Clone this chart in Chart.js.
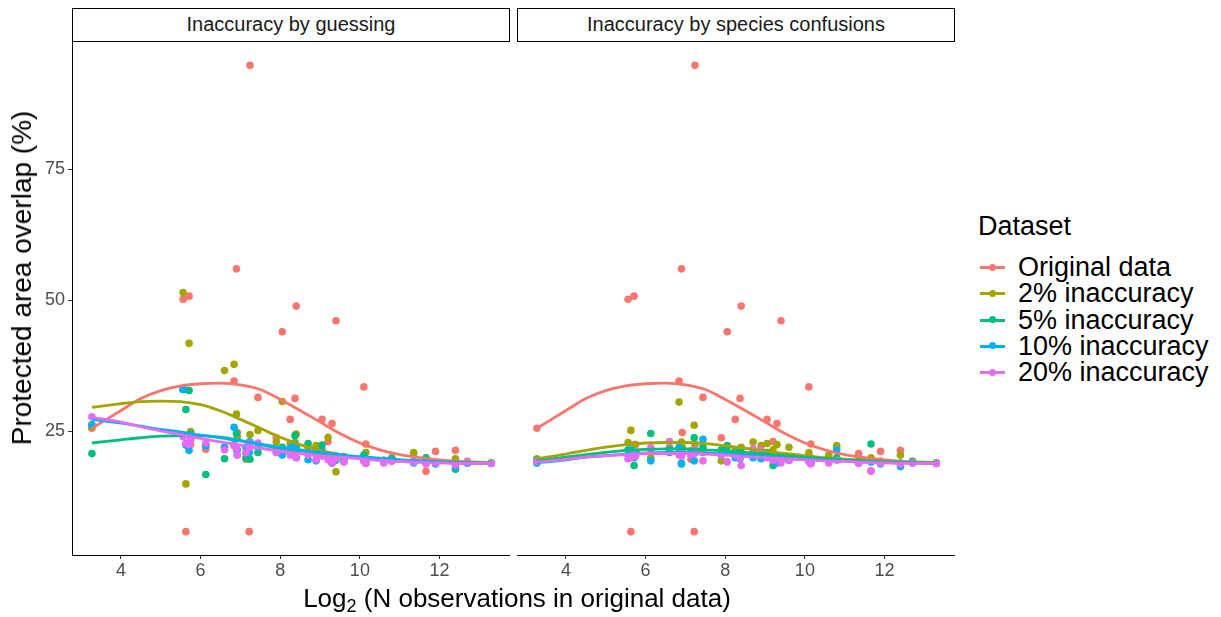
<!DOCTYPE html>
<html lang="en">
<head>
    <meta charset="UTF-8">
    <title>Protected area overlap</title>
    <script src="https://cdn.jsdelivr.net/npm/chart.js"></script>
    <style>
        body {
            margin: 0;
            width: 1221px;
            height: 617px;
            background: #fff;
            position: relative;
            overflow: hidden;
            font-family: Arial, "Liberation Sans", sans-serif;
            color: #000;
        }
        canvas { position: absolute; }
        .strip {
            position: absolute;
            top: 8px;
            height: 34px;
            width: 438px;
            box-sizing: border-box;
            border: 1.6px solid #000;
            text-align: center;
            font-size: 20px;
            line-height: 31px;
            color: #1a1a1a;
        }
        .ytitle {
            position: absolute;
            left: 22px;
            top: 278px;
            transform: translate(-50%, -50%) rotate(-90deg);
            white-space: nowrap;
            font-size: 28px;
        }
        .xtitle {
            position: absolute;
            left: 517px;
            top: 583px;
            transform: translateX(-50%);
            white-space: nowrap;
            font-size: 26px;
        }
        .xtitle sub { font-size: 18px; vertical-align: -5px; }
        .legend { position: absolute; left: 978px; top: 209px; font-size: 27px; }
        .legend .title { margin-bottom: 11px; line-height: 34px; }
        .legend .item { position: relative; height: 26.3px; line-height: 26px; padding-left: 40px; white-space: nowrap; }
        .legend .key { position: absolute; left: 2px; top: 12px; width: 25px; height: 3px; }
        .legend .dot { position: absolute; left: 9px; top: -2.5px; width: 7px; height: 7px; border-radius: 50%; }
    </style>
</head>
<body>
    <div class="strip" style="left:72px">Inaccuracy by guessing</div>
    <div class="strip" style="left:517px">Inaccuracy by species confusions</div>
    <canvas id="left-panel" width="510" height="543" style="left:0;top:42px"></canvas>
    <canvas id="right-panel" width="438" height="543" style="left:517px;top:42px"></canvas>
    <div class="ytitle">Protected area overlap (%)</div>
    <div class="xtitle">Log<sub>2</sub> (N observations in original data)</div>
    <div class="legend" id="legend"><div class="title">Dataset</div></div>

    <script>
        // series names and colours (ggplot default hue palette)
        const seriesNames = ['Original data', '2% inaccuracy', '5% inaccuracy', '10% inaccuracy', '20% inaccuracy'];
        const seriesColors = ['#F8766D', '#A3A500', '#00BF7D', '#00B0F6', '#E76BF3'];

        // log2 of N observations per species
        const speciesX = [3.27, 5.56, 5.63, 5.71, 5.75, 6.13, 6.6, 6.84, 6.9, 6.92, 7.14, 7.22, 7.24, 7.44, 7.9, 8.05, 8.25, 8.37, 8.4, 8.7,
                          8.9, 9.05, 9.2, 9.3, 9.4, 9.6, 10.1, 10.15, 10.6, 10.8, 11.35, 11.66, 11.9, 12.4, 12.7, 13.3];

        // overlap (%) per species, original data (same in both panels)
        const original = [25.6, 50.2, 5.9, 50.8, 22.5, 21.6, 22.0, 34.6, 56.0, 24.8, 19.7, 5.9, 94.8, 31.5, 23.8, 44.0, 27.3, 31.3, 48.9, 21.0,
                          20.5, 27.3, 23.1, 26.5, 46.1, 20.0, 33.5, 22.6, 19.5, 19.8, 20.8, 17.4, 21.2, 21.4, 19.3, 19.0];

        // inaccuracy by guessing
        const guess2 = [25.9, 51.5, 15.0, 41.8, 25.0, 22.5, 36.6, 37.8, 28.3, 24.0, 21.0, 22.5, 24.4, 25.2, 23.0, 30.7, 22.7, 22.9, 24.5, 22.0,
                        22.3, 21.4, 23.9, 19.0, 17.3, 20.2, 19.7, 21.0, 19.5, 20.0, 21.0, 19.2, 19.0, 19.8, 19.2, 19.0];
        const guess5 = [20.8, 33.0, 29.2, 32.8, 24.5, 16.8, 19.8, 22.5, 24.6, 21.5, 20.0, 23.0, 19.7, 21.0, 21.5, 22.0, 21.0, 24.2, 22.0, 22.7,
                        21.0, 22.4, 20.0, 19.0, 19.5, 19.8, 20.5, 19.5, 19.2, 19.8, 19.3, 20.0, 19.0, 17.8, 19.0, 19.0];
        const guess10 = [26.3, 33.0, 22.4, 21.4, 23.5, 22.3, 22.0, 25.8, 21.5, 20.5, 22.0, 21.0, 23.0, 22.0, 21.0, 20.5, 21.8, 22.5, 20.0, 19.6,
                         19.4, 21.2, 20.0, 19.2, 20.3, 19.3, 19.5, 19.0, 19.3, 19.5, 19.0, 19.1, 18.8, 18.3, 19.0, 18.9];
        const guess20 = [27.8, 24.0, 22.7, 22.5, 23.5, 22.8, 21.5, 22.3, 21.8, 20.5, 21.0, 22.8, 22.0, 22.8, 21.0, 21.5, 20.5, 21.2, 20.0, 20.5,
                         19.6, 20.3, 19.6, 19.0, 19.8, 19.2, 19.3, 18.9, 19.0, 19.3, 19.2, 18.8, 19.0, 18.6, 19.2, 18.9];

        // inaccuracy by species confusions
        const conf2 = [19.8, 22.9, 25.2, 22.5, 21.0, 20.0, 21.5, 30.6, 23.0, 22.0, 21.3, 26.2, 22.5, 21.0, 19.4, 22.0, 21.5, 20.5, 22.0, 23.0,
                       22.3, 22.7, 21.5, 22.5, 20.0, 22.0, 21.0, 20.0, 20.5, 22.3, 19.5, 20.0, 19.3, 20.5, 19.3, 19.0];
        const conf5 = [19.5, 21.5, 21.0, 18.5, 21.0, 24.6, 21.5, 21.0, 19.0, 21.5, 21.0, 23.8, 21.5, 22.0, 21.5, 22.3, 21.0, 20.5, 21.0, 21.0,
                       20.5, 21.0, 18.5, 19.5, 20.0, 19.5, 19.5, 19.0, 19.5, 20.0, 19.0, 22.6, 19.2, 19.0, 19.2, 19.0];
        const conf10 = [19.0, 20.5, 21.4, 20.0, 21.0, 19.4, 21.0, 22.0, 18.8, 21.0, 20.5, 19.4, 21.0, 23.5, 20.5, 21.0, 20.0, 19.8, 20.5, 20.0,
                        19.8, 20.5, 19.5, 19.0, 19.5, 19.5, 19.3, 19.0, 19.2, 21.5, 19.0, 19.2, 18.8, 18.3, 19.0, 18.9];
        const conf20 = [19.3, 19.8, 20.0, 20.5, 20.3, 21.9, 23.1, 20.5, 20.3, 21.0, 20.5, 20.8, 21.5, 19.4, 20.5, 19.2, 20.5, 20.0, 18.5, 21.7,
                        21.5, 20.0, 19.5, 20.0, 19.0, 19.5, 19.3, 18.8, 19.0, 19.5, 19.0, 17.5, 19.0, 18.8, 19.0, 18.9];

        // smoothed curves (loess), read at these x positions
        const smoothX = [3.27, 4, 4.5, 5, 5.5, 6, 6.5, 7, 7.5, 8, 8.5, 9, 9.5, 10, 10.5, 11, 11.5, 12, 12.5, 13.3];
        const smoothOriginal = [25.6, 29.0, 31.3, 32.8, 33.7, 34.1, 34.2, 33.9, 33.0, 31.1, 29.0, 26.8, 24.6, 22.8, 21.5, 20.6, 20.0, 19.6, 19.3, 19.1];
        const smoothGuess2 = [29.6, 30.3, 30.7, 30.8, 30.7, 30.1, 28.9, 27.3, 25.6, 23.9, 22.5, 21.4, 20.6, 20.0, 19.6, 19.3, 19.2, 19.1, 19.0, 18.9];
        const smoothGuess5 = [22.8, 23.4, 23.8, 24.1, 24.2, 24.2, 23.9, 23.3, 22.5, 21.8, 21.3, 20.8, 20.4, 20.1, 19.8, 19.6, 19.4, 19.2, 19.1, 19.0];
        const smoothGuess10 = [27.3, 26.6, 26.0, 25.4, 24.9, 24.3, 23.8, 23.2, 22.6, 22.0, 21.5, 21.0, 20.6, 20.2, 19.9, 19.6, 19.4, 19.2, 19.0, 18.9];
        const smoothGuess20 = [27.7, 26.8, 25.9, 25.1, 24.4, 23.7, 23.0, 22.4, 21.8, 21.3, 20.8, 20.4, 20.1, 19.8, 19.5, 19.3, 19.1, 19.0, 18.9, 18.9];
        const smoothConf2 = [19.8, 20.7, 21.4, 22.0, 22.5, 22.8, 22.9, 22.9, 22.7, 22.3, 21.8, 21.3, 20.8, 20.4, 20.0, 19.7, 19.5, 19.3, 19.1, 19.0];
        const smoothConf5 = [19.4, 20.1, 20.6, 21.0, 21.4, 21.6, 21.7, 21.7, 21.5, 21.3, 21.0, 20.7, 20.4, 20.1, 19.8, 19.6, 19.4, 19.2, 19.1, 19.0];
        const smoothConf10 = [19.0, 19.6, 20.1, 20.4, 20.7, 20.9, 21.0, 21.0, 20.9, 20.7, 20.5, 20.2, 19.9, 19.7, 19.5, 19.4, 19.2, 19.1, 19.0, 18.9];
        const smoothConf20 = [19.2, 19.7, 20.1, 20.4, 20.6, 20.8, 20.8, 20.8, 20.7, 20.5, 20.2, 20.0, 19.8, 19.6, 19.4, 19.3, 19.1, 19.0, 18.9, 18.9];

        // axis ticks
        const xTicks = [4, 6, 8, 10, 12];
        const yTicks = [25, 50, 75];

        const toPoints = (xs, ys) => xs.map((x, i) => ({ x: x, y: ys[i] }));

        function buildDatasets(pointSeries, smoothSeries) {
            const sets = [];
            // points first (bottom), red lowest; then lines on top
            pointSeries.forEach((ys, i) => {
                sets.push({
                    data: toPoints(speciesX, ys),
                    backgroundColor: seriesColors[i],
                    borderWidth: 0,
                    pointRadius: 3.8,
                    showLine: false,
                    order: 100 - i
                });
            });
            smoothSeries.forEach((ys, i) => {
                sets.push({
                    data: toPoints(smoothX, ys),
                    borderColor: seriesColors[i],
                    borderWidth: 2.8,
                    pointRadius: 0,
                    showLine: true,
                    cubicInterpolationMode: 'monotone',
                    order: 50 - i
                });
            });
            return sets;
        }

        const tickFont = { size: 18, family: 'Arial, "Liberation Sans"' };

        // no extra padding for overflowing tick labels
        const noPadding = scale => {
            scale.paddingTop = 0; scale.paddingBottom = 0;
            scale.paddingLeft = 0; scale.paddingRight = 0;
        };

        function makePanel(canvasId, pointSeries, smoothSeries, showY) {
            const ctx = document.getElementById(canvasId).getContext('2d');
            return new Chart(ctx, {
                type: 'scatter',
                data: { datasets: buildDatasets(pointSeries, smoothSeries) },
                options: {
                    responsive: false,
                    animation: false,
                    layout: { padding: 0, autoPadding: false },
                    clip: false,
                    plugins: { legend: { display: false }, tooltip: { enabled: false } },
                    scales: {
                        x: {
                            type: 'linear',
                            min: 2.77,
                            max: 13.77,
                            afterBuildTicks: scale => { scale.ticks = xTicks.map(v => ({ value: v })); },
                            afterFit: scale => { scale.height = 30; noPadding(scale); },
                            grid: { drawOnChartArea: false, drawTicks: true, tickLength: 4, color: '#333' },
                            border: { display: true, color: '#000', width: 1 },
                            ticks: { color: '#4d4d4d', font: tickFont, padding: 1, maxRotation: 0 }
                        },
                        y: {
                            type: 'linear',
                            display: showY,
                            min: 1.45,
                            max: 99.25,
                            afterBuildTicks: scale => { scale.ticks = yTicks.map(v => ({ value: v })); },
                            afterFit: scale => { scale.width = showY ? 72 : 0; noPadding(scale); },
                            grid: { drawOnChartArea: false, drawTicks: true, tickLength: 4, color: '#333' },
                            border: { display: true, color: '#000', width: 1 },
                            ticks: { color: '#4d4d4d', font: tickFont, padding: 3 }
                        }
                    }
                }
            });
        }

        makePanel('left-panel',
            [original, guess2, guess5, guess10, guess20],
            [smoothOriginal, smoothGuess2, smoothGuess5, smoothGuess10, smoothGuess20], true);
        makePanel('right-panel',
            [original, conf2, conf5, conf10, conf20],
            [smoothOriginal, smoothConf2, smoothConf5, smoothConf10, smoothConf20], false);

        // legend
        const legend = document.getElementById('legend');
        seriesNames.forEach((name, i) => {
            const item = document.createElement('div');
            item.className = 'item';
            item.innerHTML = '<span class="key" style="background:' + seriesColors[i] + '">' +
                '<span class="dot" style="background:' + seriesColors[i] + '"></span></span>' + name;
            legend.appendChild(item);
        });
    </script>
</body>
</html>
